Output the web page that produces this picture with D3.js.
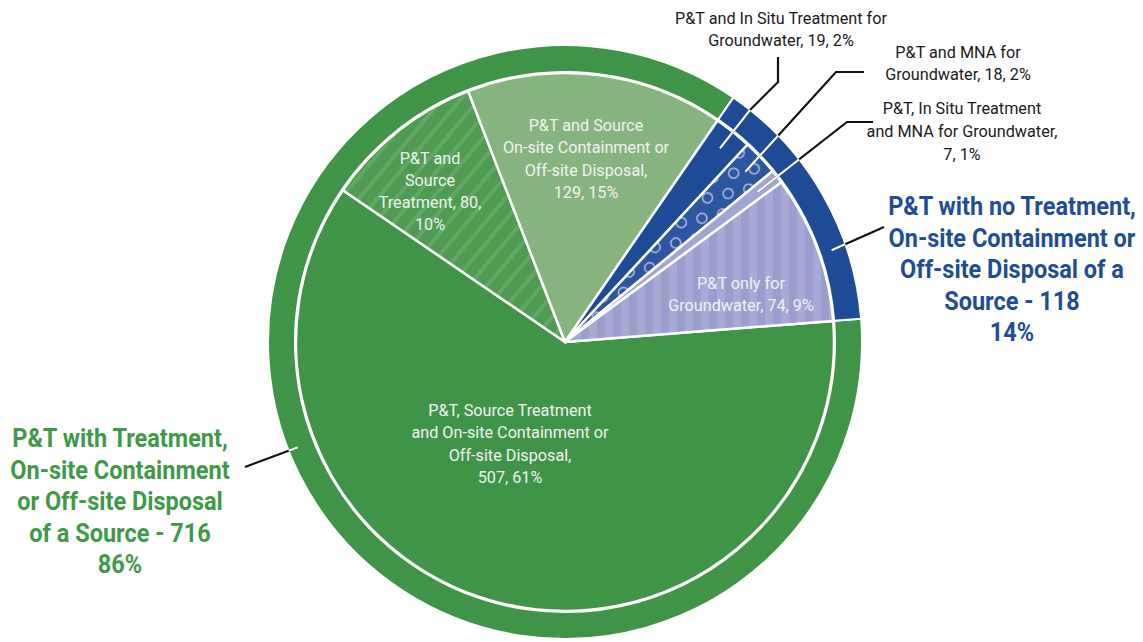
<!DOCTYPE html>
<html>
<head>
<meta charset="utf-8">
<script src="https://cdn.jsdelivr.net/npm/d3@7"></script>
<style>
  html, body { margin: 0; padding: 0; background: #ffffff; }
  svg { display: block; }
  text { font-family: "Roboto", "Liberation Sans", sans-serif; }
</style>
</head>
<body>
<svg id="chart" width="1143" height="642"></svg>
<script>
// ---------- data ----------
const innerCategories = [
  "P&T, Source Treatment and On-site Containment or Off-site Disposal",
  "P&T and Source Treatment",
  "P&T and Source On-site Containment or Off-site Disposal",
  "P&T and In Situ Treatment for Groundwater",
  "P&T and MNA for Groundwater",
  "P&T, In Situ Treatment and MNA for Groundwater",
  "P&T only for Groundwater"
];
const innerValues = [507, 80, 129, 19, 18, 7, 74];
const innerPercents = ["61%", "10%", "15%", "2%", "2%", "1%", "9%"];

const outerCategories = [
  "P&T with Treatment, On-site Containment or Off-site Disposal of a Source",
  "P&T with no Treatment, On-site Containment or Off-site Disposal of a Source"
];
const outerValues = [716, 118];
const outerPercents = ["86%", "14%"];

// label line breaks (text only)
const innerLabelLines = [
  ["P&T, Source Treatment", "and On-site Containment or", "Off-site Disposal,", "507, 61%"],
  ["P&T and", "Source", "Treatment, 80,", "10%"],
  ["P&T and Source", "On-site Containment or", "Off-site Disposal,", "129, 15%"],
  ["P&T and In Situ Treatment for", "Groundwater, 19, 2%"],
  ["P&T and MNA for", "Groundwater, 18, 2%"],
  ["P&T, In Situ Treatment", "and MNA for Groundwater,", "7, 1%"],
  ["P&T only for", "Groundwater, 74, 9%"]
];
const outerLabelLines = [
  ["P&T with Treatment,", "On-site Containment", "or Off-site Disposal", "of a Source - 716", "86%"],
  ["P&T with no Treatment,", "On-site Containment or", "Off-site Disposal of a", "Source - 118", "14%"]
];

// ---------- layout / style ----------
const cx = 565, cy = 342;
const rPie = 269, rRingIn = 270, rRingOut = 297;
const startDeg = 85.5;
const innerFills = ["#3f9447", "url(#stripeDiag)", "#86b47e", "#1d4b95", "url(#dots)", "#a2a5d2", "url(#stripeVert)"];
const outerFills = ["#3f9447", "#1d4b95"];
const innerText = "#f2f2f2";

const svg = d3.select("#chart");
const defs = svg.append("defs");

// diagonal stripes (80 slice)
const pd = defs.append("pattern").attr("id", "stripeDiag").attr("patternUnits", "userSpaceOnUse")
  .attr("width", 14).attr("height", 14).attr("patternTransform", "rotate(40)");
pd.append("rect").attr("width", 14).attr("height", 14).attr("fill", "#4e9b51");
pd.append("rect").attr("width", 4).attr("height", 14).attr("fill", "#60a863");

// vertical stripes (74 slice)
const pv = defs.append("pattern").attr("id", "stripeVert").attr("patternUnits", "userSpaceOnUse")
  .attr("width", 16).attr("height", 16);
pv.append("rect").attr("width", 16).attr("height", 16).attr("fill", "#9a9ecd");
pv.append("rect").attr("x", 8).attr("width", 8).attr("height", 16).attr("fill", "#a7aad5");

// open-circle dots (18 slice), staggered two rows along the slice axis
const pc = defs.append("pattern").attr("id", "dots").attr("patternUnits", "userSpaceOnUse")
  .attr("width", 36).attr("height", 22).attr("patternTransform", "translate(565,342) rotate(-43.4)");
pc.append("rect").attr("width", 36).attr("height", 22).attr("fill", "#2c56a0");
pc.append("circle").attr("cx", 9).attr("cy", 5.5).attr("r", 5).attr("fill", "none")
  .attr("stroke", "#b9bee2").attr("stroke-width", 1.5);
pc.append("circle").attr("cx", 27).attr("cy", 16.5).attr("r", 5).attr("fill", "none")
  .attr("stroke", "#b9bee2").attr("stroke-width", 1.5);

defs.append("clipPath").attr("id", "pieClip")
  .append("circle").attr("cx", cx).attr("cy", cy).attr("r", rRingOut);

const a0 = startDeg * Math.PI / 180;
const pie = d3.pie().sort(null).startAngle(a0).endAngle(a0 + 2 * Math.PI);
const innerArcs = pie(innerValues);
const outerArcs = pie(outerValues);

const g = svg.append("g").attr("transform", `translate(${cx},${cy})`);

const arcOuter = d3.arc().innerRadius(rRingIn).outerRadius(rRingOut);
g.selectAll("path.outer").data(outerArcs).join("path")
  .attr("class", "outer")
  .attr("d", arcOuter)
  .attr("fill", (d, i) => outerFills[i])
  .attr("stroke", "#ffffff").attr("stroke-width", 2);

const arcInner = d3.arc().innerRadius(0).outerRadius(rPie);
g.selectAll("path.inner").data(innerArcs).join("path")
  .attr("class", "inner")
  .attr("d", arcInner)
  .attr("fill", (d, i) => innerFills[i])
  .attr("stroke", "#ffffff").attr("stroke-width", 2.5).attr("stroke-linejoin", "round");

// ---------- condensed text helper ----------
function condensedBlock(parent, lines, x, y, lh, size, weight, color, sx) {
  const t = parent.append("text")
    .attr("transform", `translate(${x},${y}) scale(${sx},1)`)
    .attr("text-anchor", "middle")
    .attr("font-size", size)
    .attr("font-weight", weight)
    .attr("fill", color);
  lines.forEach((ln, k) => {
    t.append("tspan").attr("x", 0).attr("y", k * lh).attr("dy", "0.35em").text(ln);
  });
  return t;
}
function measure(str, size, weight) {
  const t = svg.append("text").attr("font-size", size).attr("font-weight", weight).text(str);
  const w = t.node().getComputedTextLength();
  t.remove();
  return w;
}
const smallSize = 16.5, boldSize = 26;
// match condensed face widths from reference
const sxSmall = 212 / measure("P&T and In Situ Treatment for", smallSize, "normal");
const sxBold = 248 / measure("P&T with no Treatment,", boldSize, "bold");

// ---------- inner labels ----------
const innerLabelPos = [
  { x: 510, y: 410, lh: 22.5 },
  { x: 430, y: 158, lh: 22 },
  { x: 586, y: 125, lh: 22.5 },
  { x: 781, y: 18, lh: 22.5, dark: true },
  { x: 958, y: 52, lh: 22.5, dark: true },
  { x: 962, y: 108, lh: 23, dark: true },
  { x: 741, y: 283, lh: 22.5 }
];
innerLabelLines.forEach((lines, i) => {
  const p = innerLabelPos[i];
  condensedBlock(svg, lines, p.x, p.y, p.lh, smallSize, "normal", p.dark ? "#1a1a1a" : innerText, sxSmall);
});

// ---------- outer labels ----------
const outerLabelPos = [
  { x: 120, y: 438, color: "#3e9a48" },
  { x: 1012, y: 206, color: "#1f4d95" }
];
outerLabelLines.forEach((lines, i) => {
  const p = outerLabelPos[i];
  condensedBlock(svg, lines, p.x, p.y, 31.5, boldSize, "bold", p.color, sxBold);
});

// ---------- leader lines ----------
function polar(angle, r) {
  return [cx + r * Math.sin(angle), cy - r * Math.cos(angle)];
}
const mid = d => (d.startAngle + d.endAngle) / 2;
const leaders = [
  [polar(mid(innerArcs[3]), 248), [750, 110], [778, 82], [778, 57]],
  [polar(mid(innerArcs[4]), 248), [836, 72], [864, 72]],
  [polar(mid(innerArcs[5]), 244), [847, 122], [873, 122]],
  [polar(71 * Math.PI / 180, 282), [884, 227]],
  [polar(248.5 * Math.PI / 180, 287), [245, 467]]
];
const line = d3.line();
const lg = svg.append("g");
leaders.forEach(pts => {
  lg.append("path").attr("d", line(pts)).attr("fill", "none")
    .attr("stroke", "#111111").attr("stroke-width", 2.2).attr("stroke-linejoin", "miter");
  lg.append("path").attr("d", line(pts)).attr("fill", "none")
    .attr("stroke", "#ffffff").attr("stroke-width", 2.2)
    .attr("clip-path", "url(#pieClip)");
});
</script>
</body>
</html>
